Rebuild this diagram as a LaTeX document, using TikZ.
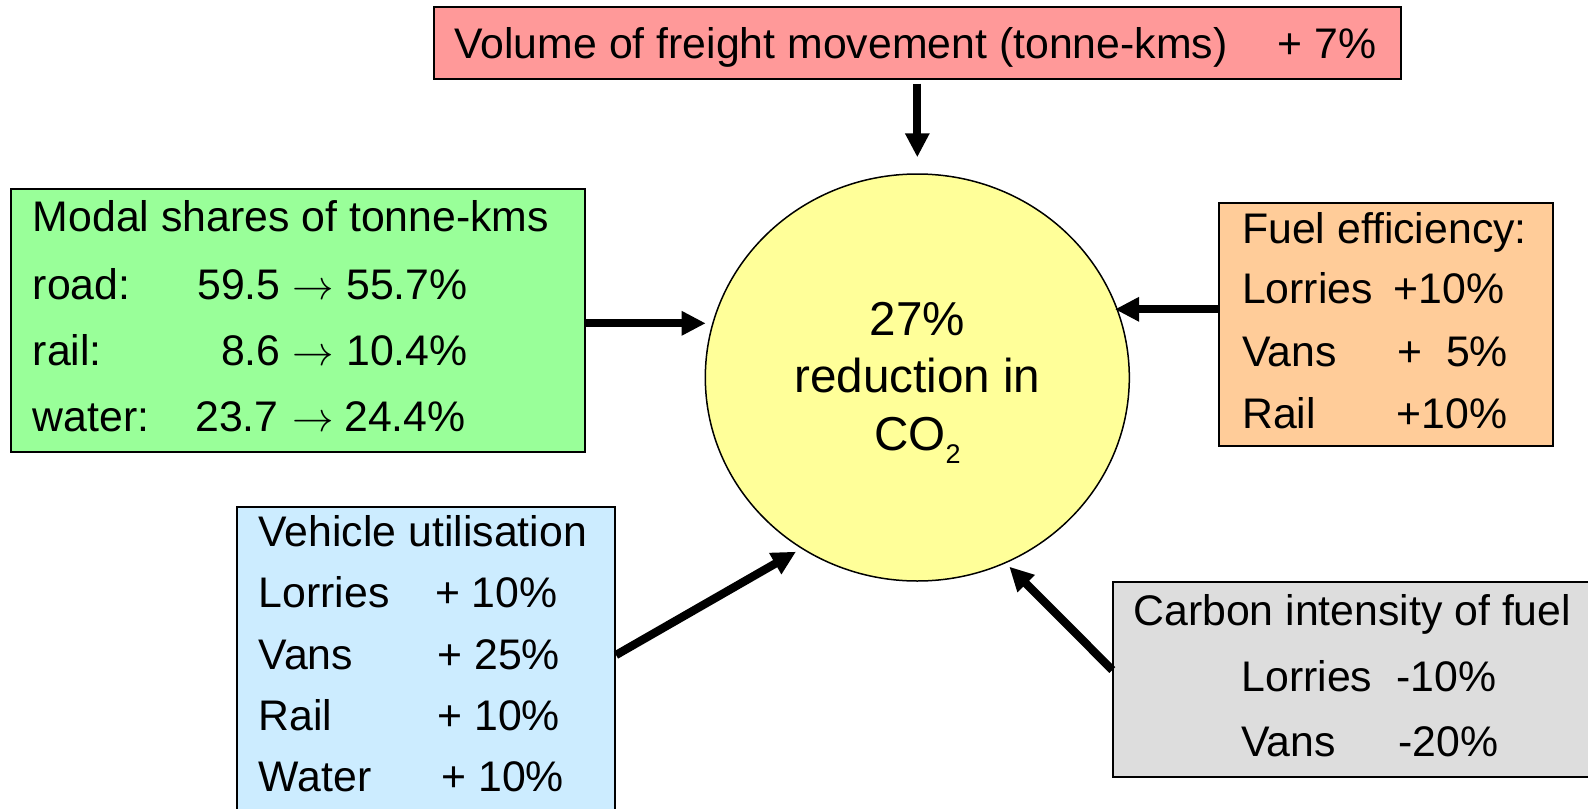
\documentclass[tikz,border=0pt]{standalone}
\usepackage{fontspec}
\setmainfont{Liberation Sans}
\usetikzlibrary{arrows.meta,shapes.geometric}
\definecolor{cred}{HTML}{FF9999}
\definecolor{cgreen}{HTML}{99FF99}
\definecolor{corange}{HTML}{FFCC99}
\definecolor{cblue}{HTML}{CCECFF}
\definecolor{cgrey}{HTML}{DDDDDD}
\definecolor{cyellow}{HTML}{FFFF99}
\begin{document}
\begin{tikzpicture}[x=0.5pt,y=-0.5pt,
  box/.style={draw=black, line width=1pt, rectangle, inner sep=0pt},
  txt/.style={inner sep=0pt, anchor=base west, font=\fontsize{21.4pt}{25pt}\selectfont},
  txtr/.style={txt, anchor=base east},
  txtc/.style={inner sep=0pt, anchor=base, font=\fontsize{23.8pt}{28pt}\selectfont},
  arrsym/.style={txt, anchor=base},
  arr/.style={line width=4.15pt, -{Triangle[length=12pt,width=11.5pt]}}]
\useasboundingbox (0,0) rectangle (1588,808);
\fill[white] (0,0) rectangle (1588,808);

% boxes
\node[box, fill=cred, minimum width=483.55pt, minimum height=36.3pt] (red) at (917.05,43) {};
\node[box, fill=cgreen, minimum width=287.05pt, minimum height=131.2pt] (green) at (297.75,320.5) {};
\node[box, fill=corange, minimum width=166.85pt, minimum height=121.35pt] (orange) at (1386.15,324.65) {};
\node[box, fill=cblue, minimum width=188.85pt, minimum height=161.65pt] (blue) at (426.15,668.35) {};
\node[box, fill=cgrey, minimum width=248.35pt, minimum height=97.8pt] (grey) at (1361.65,679.5) {};
\node[draw=black, line width=0.75pt, fill=cyellow, ellipse, inner sep=0pt,
      minimum width=212pt, minimum height=203.5pt] (circ) at (917.3,377.5) {};

% red text
\node[txt] (r1) at (454,58.5) {Volume of freight movement (tonne-kms)};
\node[txt] (r2) at (1277,58.5) {+ 7\%};

% green text
\node[txt] (g0) at (32.5,231.7) {Modal shares of tonne-kms};
\node[txt] (g1) at (32.5,299) {road:};
\node[txt] (g2) at (32.5,365) {rail:};
\node[txt] (g3) at (32.5,431.7) {water:};
\node[txtr] (g1a) at (281,299) {59.5};
\node[txtr] (g2a) at (281,365) {8.6};
\node[txtr] (g3a) at (279,431.7) {23.7};
\node[arrsym] (g1b) at (313,299) {$\rightarrow$};
\node[arrsym] (g2b) at (313,365) {$\rightarrow$};
\node[arrsym] (g3b) at (313,431.7) {$\rightarrow$};
\node[txt] (g1c) at (346,299) {55.7\%};
\node[txt] (g2c) at (346,365) {10.4\%};
\node[txt] (g3c) at (344,431.7) {24.4\%};

% orange text
\node[txt] (o0) at (1241.7,243.3) {Fuel efficiency:};
\node[txt] (o1) at (1241.7,303.3) {Lorries};
\node[txt] (o2) at (1241.7,366) {Vans};
\node[txt] (o3) at (1241.7,428.3) {Rail};
\node[txt] (o1a) at (1393,303.3) {+10\%};
\node[txt] (o2a) at (1397,366) {+\ \ 5\%};
\node[txt] (o3a) at (1396,428.3) {+10\%};

% blue text
\node[txt] (b0) at (258.3,546.7) {Vehicle utilisation};
\node[txt] (b1) at (258.3,607.7) {Lorries};
\node[txt] (b2) at (258.3,669) {Vans};
\node[txt] (b3) at (258.3,730) {Rail};
\node[txt] (b4) at (258.3,791.7) {Water};
\node[txt] (b1a) at (434.7,607.7) {+ 10\%};
\node[txt] (b2a) at (437,669) {+ 25\%};
\node[txt] (b3a) at (437,730) {+ 10\%};
\node[txt] (b4a) at (441,791.7) {+ 10\%};

% grey text
\node[txt] (k0) at (1133,625) {Carbon intensity of fuel};
\node[txt] (k1) at (1241,691.7) {Lorries};
\node[txt] (k2) at (1241,756.7) {Vans};
\node[txt] (k1a) at (1396,691.7) {-10\%};
\node[txt] (k2a) at (1398,756.7) {-20\%};

% circle text
\node[txtc] (c1) at (917.3,335) {27\%};
\node[txtc] (c2) at (917.3,392.3) {reduction in};
\node[txtc] (c3) at (917.3,450) {CO\raisebox{-6.5pt}{\fontsize{13.5pt}{13.5pt}\selectfont 2}};

% arrow tips / starts
\coordinate (tT) at (917.3,157.3);
\coordinate (tG) at (705.7,323.3);
\coordinate (tO) at (1115,309.3);
\coordinate (tB) at (796,551.7);
\coordinate (sB) at (615,655);
\coordinate (tK) at (1009.3,566.7);
\coordinate (sK) at (1113.3,670);

\draw[arr, shorten <=1.7pt] (red.south -| tT) -- (tT);
\draw[arr] (green.east |- tG) -- (tG);
\draw[arr] (orange.west |- tO) -- (tO);
\draw[arr] (blue.east |- sB) -- (tB);
\draw[arr] (grey.west |- sK) -- (tK);
\end{tikzpicture}
\end{document}
